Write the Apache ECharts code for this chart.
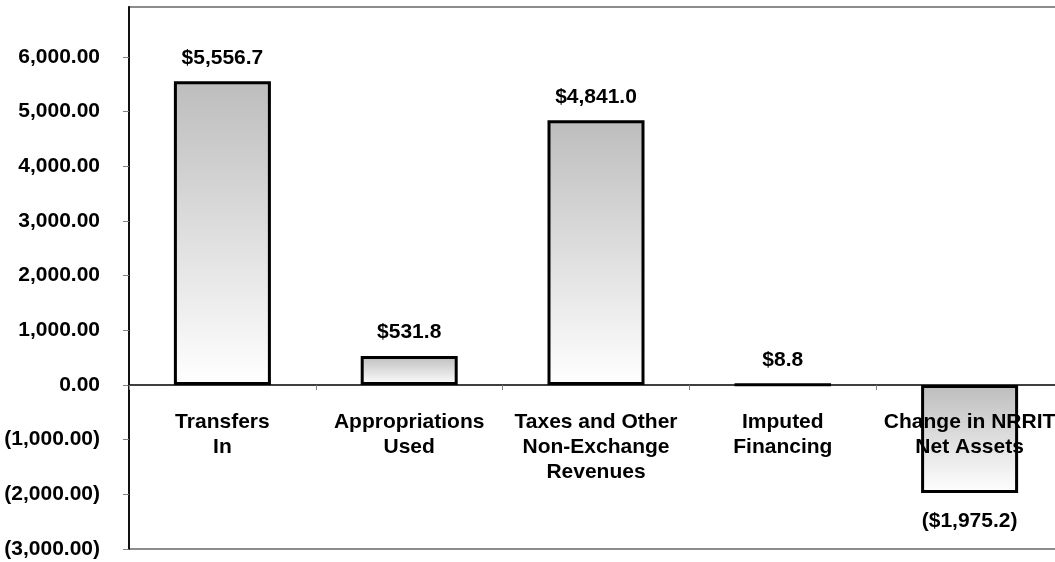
<!DOCTYPE html>
<html>
<head>
<meta charset="utf-8">
<script src="https://cdn.jsdelivr.net/npm/echarts@6/dist/echarts.min.js"></script>
<style>
  html, body { margin: 0; padding: 0; background: #fff; }
  #chart { width: 1055px; height: 562px; }
</style>
</head>
<body>
<div id="chart"></div>
<script>
// Financing sources, in millions of dollars
const categories = [
  'Transfers\nIn',
  'Appropriations\nUsed',
  'Taxes and Other\nNon-Exchange\nRevenues',
  'Imputed\nFinancing',
  'Change in NRRIT\nNet Assets'
];
const values = [5556.7, 531.8, 4841.0, 8.8, -1975.2];
const yTicks = [-3000, -2000, -1000, 0, 1000, 2000, 3000, 4000, 5000, 6000];
const yMin = -3000;
const yMax = 6915;

const FONT = '"Liberation Sans", Arial, Helvetica, sans-serif';

function fmtAxis(v) {
  const s = Math.abs(v).toLocaleString('en-US', { minimumFractionDigits: 2, maximumFractionDigits: 2 });
  return v < 0 ? '(' + s + ')' : s;
}
function fmtValue(v) {
  const s = '$' + Math.abs(v).toLocaleString('en-US', { minimumFractionDigits: 1, maximumFractionDigits: 1 });
  return v < 0 ? '(' + s + ')' : s;
}

const barFill = new echarts.graphic.LinearGradient(0, 0, 0, 1, [
  { offset: 0, color: '#bdbdbd' },
  { offset: 1, color: '#ffffff' }
]);

const chart = echarts.init(document.getElementById('chart'), null, { renderer: 'canvas' });

chart.setOption({
  backgroundColor: '#ffffff',
  animation: false,
  // plot frame: grey rules along the top and bottom edges
  grid: {
    left: 129, top: 7, bottom: 13, right: -8,
    containLabel: false, outerBoundsMode: 'none',
    show: true, borderColor: '#8c8c8c', borderWidth: 2, backgroundColor: 'transparent'
  },
  xAxis: {
    type: 'category',
    data: categories,
    z: 10,
    axisLine: { onZero: false, lineStyle: { color: '#000', width: 1.5 } },
    axisTick: { show: true, length: 5, lineStyle: { color: '#808080', width: 1 } },
    axisLabel: {
      interval: 0,
      margin: 25,
      fontFamily: FONT,
      fontWeight: 'bold',
      fontSize: 21,
      lineHeight: 25,
      color: '#000',
      align: 'center'
    },
    splitLine: { show: false }
  },
  yAxis: {
    type: 'value',
    min: yMin,
    max: yMax,
    interval: 1000,
    axisLine: { show: true, lineStyle: { color: '#111', width: 2 } },
    axisTick: { show: true, length: 6, customValues: yTicks, lineStyle: { color: '#808080', width: 1 } },
    axisLabel: {
      customValues: yTicks,
      margin: 29,
      fontFamily: FONT,
      fontWeight: 'bold',
      fontSize: 21,
      color: '#000',
      formatter: fmtAxis
    },
    splitLine: { show: false }
  },
  series: [
    {
      type: 'bar',
      data: values.map(v => ({
        value: v,
        label: v < 0 ? { position: 'bottom', distance: 18 } : { position: 'top' }
      })),
      barWidth: 97,
      itemStyle: { color: barFill, borderColor: '#000', borderWidth: 3 },
      label: {
        show: true,
        position: 'top',
        distance: 13,
        fontFamily: FONT,
        fontWeight: 'bold',
        fontSize: 21,
        color: '#000',
        formatter: p => fmtValue(p.value)
      }
    }
  ]
});

// lift the category axis (line, ticks and labels) up to the zero line
const zeroY = chart.convertToPixel({ yAxisIndex: 0 }, 0);
const baseY = chart.convertToPixel({ yAxisIndex: 0 }, yMin);
chart.setOption({ xAxis: { offset: zeroY - baseY } });
</script>
</body>
</html>
